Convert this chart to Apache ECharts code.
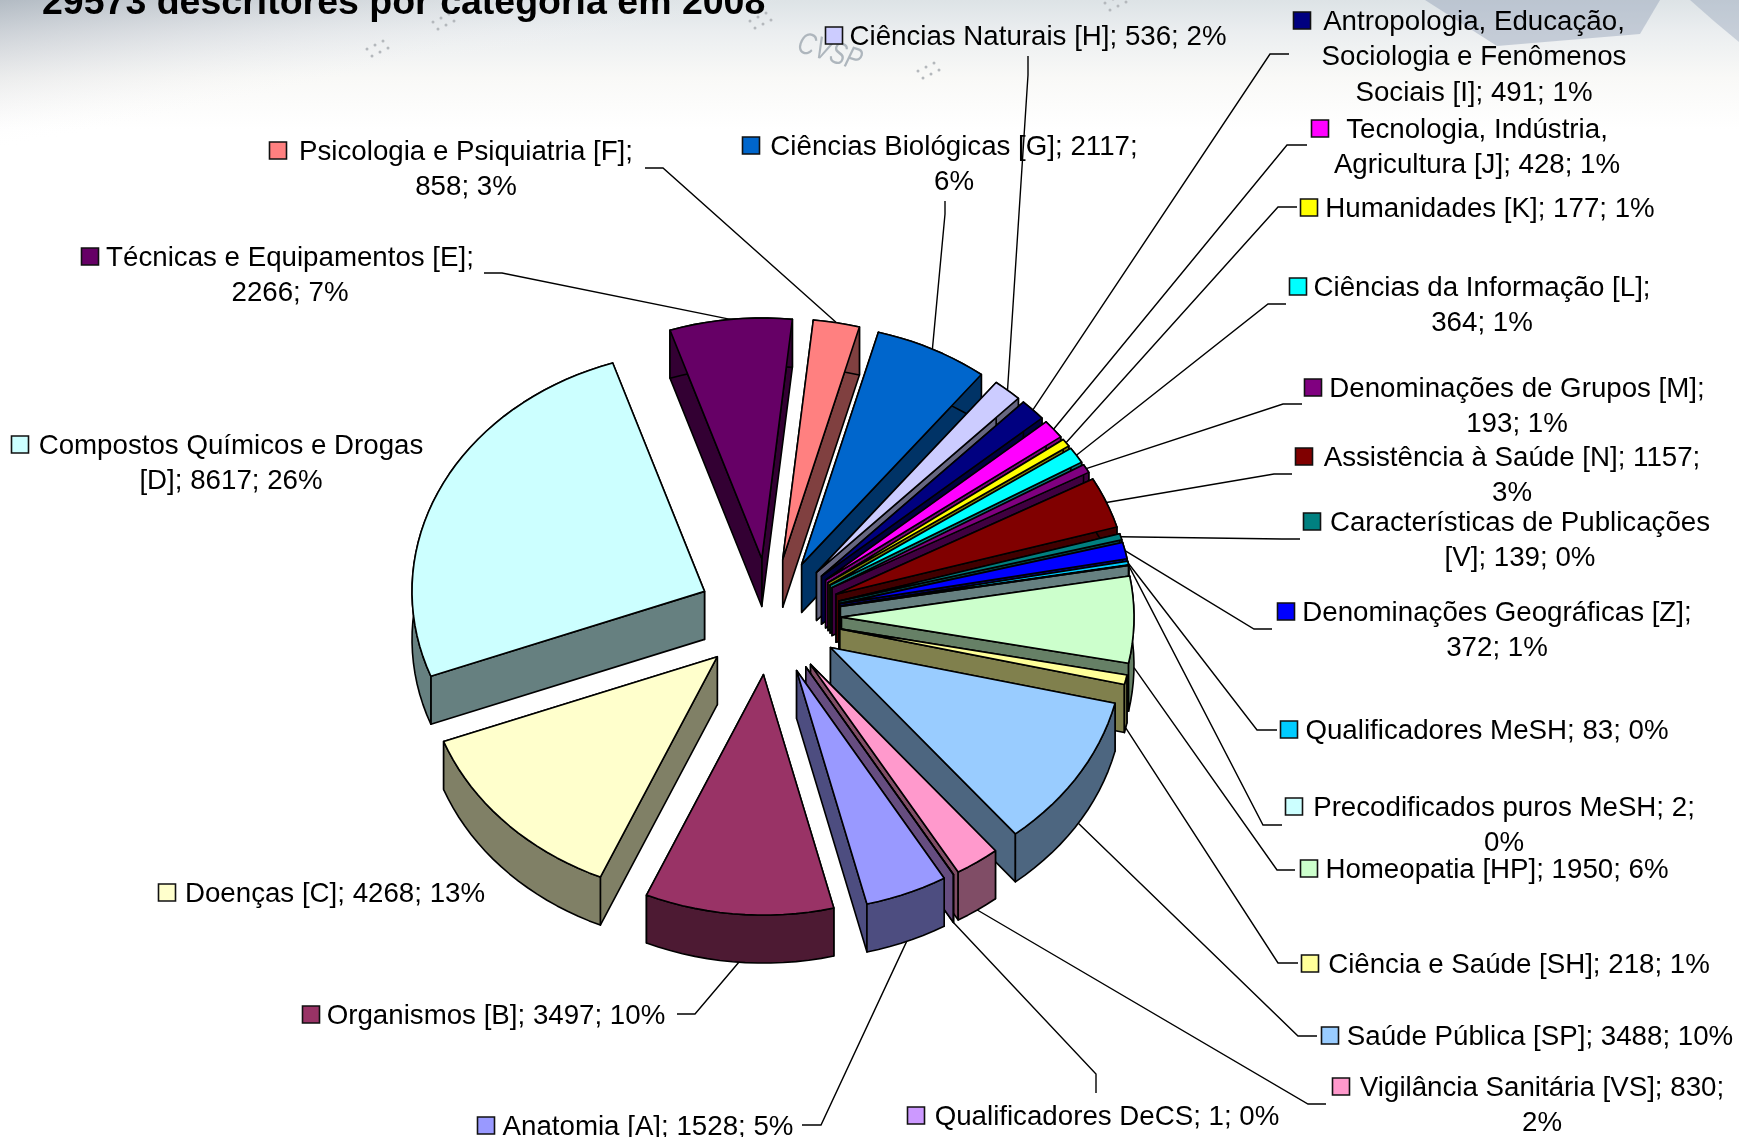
<!DOCTYPE html>
<html><head><meta charset="utf-8">
<style>html,body{margin:0;padding:0;background:#fff}#c{width:1739px;height:1137px}</style>
<script src="https://cdn.jsdelivr.net/npm/echarts@6/dist/echarts.min.js"></script>
</head><body><div id="c"></div>
<script>
const titleText = '29573 descritores por categoria em 2008';
const categories = ['Anatomia [A]','Organismos [B]','Doenças [C]','Compostos Químicos e Drogas [D]','Técnicas e Equipamentos [E]','Psicologia e Psiquiatria [F]','Ciências Biológicas [G]','Ciências Naturais [H]','Antropologia, Educação, Sociologia e Fenômenos Sociais [I]','Tecnologia, Indústria, Agricultura [J]','Humanidades [K]','Ciências da Informação [L]','Denominações de Grupos [M]','Assistência à Saúde [N]','Características de Publicações [V]','Denominações Geográficas [Z]','Qualificadores MeSH','Precodificados puros MeSH','Homeopatia [HP]','Ciência e Saúde [SH]','Saúde Pública [SP]','Vigilância Sanitária [VS]','Qualificadores DeCS'];
const values = [1528,3497,4268,8617,2266,858,2117,536,491,428,177,364,193,1157,139,372,83,2,1950,218,3488,830,1];
const percents = [5,10,13,26,7,3,6,2,1,1,1,1,1,3,0,1,0,0,6,1,10,2,0];
const colors = ['#9999FF','#993366','#FFFFCC','#CCFFFF','#660066','#FF8080','#0066CC','#CCCCFF','#000080','#FF00FF','#FFFF00','#00FFFF','#800080','#800000','#008080','#0000FF','#00CCFF','#CCFFFF','#CCFFCC','#FFFF99','#99CCFF','#FF99CC','#CC99FF'];

// Pie projection
const CX=769.5, CY=616.5, RX=292.5, RY=240.5, EXPLODE=72, DEPTH=48, START_DEG=30.3;
// Label placement: key x/y, text centre x, first-line y, break points, leader stub + elbow
const labelLayout = [
 {kx:486,y:1125,tx:648,br:[],stub:[802,1125],elbow:[821,1125]},
 {kx:311,y:1014,tx:496,br:[],stub:[677,1014],elbow:[695,1014]},
 {kx:167,y:892,tx:335,br:[]},
 {kx:20,y:444,tx:231,br:['Drogas']},
 {kx:90,y:256,tx:290,br:['[E];'],stub:[484,273],elbow:[502,273]},
 {kx:278,y:150,tx:466,br:['[F];'],stub:[645,168],elbow:[663,168]},
 {kx:751,y:145,tx:954,br:['2117;'],stub:[945,201],elbow:[945,214]},
 {kx:834,y:35,tx:1038,br:[],stub:[1028,56],elbow:[1028,75]},
 {kx:1302,y:20,tx:1474,br:['Educação,','Fenômenos'],stub:[1289,54],elbow:[1270,54]},
 {kx:1320,y:128,tx:1477,br:['Indústria,'],stub:[1307,145],elbow:[1287,145]},
 {kx:1309,y:207,tx:1490,br:[],stub:[1297,207],elbow:[1278,207]},
 {kx:1298,y:286,tx:1482,br:['[L];'],stub:[1286,304],elbow:[1268,304]},
 {kx:1313,y:387,tx:1517,br:['[M];'],stub:[1302,404],elbow:[1283,404]},
 {kx:1304,y:456,tx:1512,br:['1157;'],stub:[1292,474],elbow:[1274,474]},
 {kx:1312,y:521,tx:1520,br:['Publicações'],stub:[1300,539],elbow:[1282,539]},
 {kx:1286,y:611,tx:1497,br:['[Z];'],stub:[1272,629],elbow:[1254,629]},
 {kx:1289,y:729,tx:1487,br:[],stub:[1277,730],elbow:[1257,730]},
 {kx:1294,y:806,tx:1504,br:['2;'],stub:[1282,825],elbow:[1263,825]},
 {kx:1309,y:868,tx:1497,br:[],stub:[1295,870],elbow:[1277,870]},
 {kx:1310,y:963,tx:1519,br:[],stub:[1298,963],elbow:[1278,963]},
 {kx:1330,y:1035,tx:1540,br:[],stub:[1317,1036],elbow:[1298,1036]},
 {kx:1341,y:1086,tx:1542,br:['830;'],stub:[1326,1104],elbow:[1308,1104]},
 {kx:916,y:1115,tx:1107,br:[],stub:[1096,1093],elbow:[1096,1074]}
];
const dotClusters = [[377,50],[443,23],[760,22],[928,72],[1115,4]];

const total = values.reduce((a,b)=>a+b,0);
const angles=[]; { let acc=0; values.forEach(v=>{ const a0=acc/total*360-START_DEG; acc+=v; angles.push([a0,acc/total*360-START_DEG]); }); }
const rad=d=>d*Math.PI/180;
const dirOf=d=>[-Math.sin(rad(d)),Math.cos(rad(d))];
function apexOf(i){ const m=(angles[i][0]+angles[i][1])/2, d=dirOf(m); return [CX+EXPLODE*d[0],CY+EXPLODE*d[1]*0.81]; }
function rimPoint(i,deg){ const a=apexOf(i), d=dirOf(deg); return [a[0]+RX*d[0],a[1]+RY*d[1]]; }
function anchor(i){ const m=(angles[i][0]+angles[i][1])/2, p=rimPoint(i,m); return [p[0],p[1]+(Math.cos(rad(m))>0?DEPTH:0)]; }
const drawOrder=values.map((_,i)=>i).sort((a,b)=>Math.cos(rad((angles[a][0]+angles[a][1])/2))-Math.cos(rad((angles[b][0]+angles[b][1])/2)));
const rank=[]; drawOrder.forEach((i,r)=>rank[i]=r);
function dark(hex){ const n=parseInt(hex.slice(1),16); const f=v=>Math.round(v*0.5); return `rgb(${f(n>>16&255)},${f(n>>8&255)},${f(n&255)})`; }
const edge={stroke:'#000',lineWidth:1.6,lineJoin:'round'};

function renderSlice(params){
  const i=params.dataIndex, [a0,a1]=angles[i], apex=apexOf(i);
  const steps=Math.max(2,Math.ceil((a1-a0)/2.5)), arc=[];
  for(let s=0;s<=steps;s++) arc.push(rimPoint(i,a0+(a1-a0)*s/steps));
  const dn=p=>[p[0],p[1]+DEPTH];
  const wall=dark(colors[i]), z=rank[i]*5;
  const poly=(pts,fill,k)=>({type:'polygon',z2:z+k,shape:{points:pts},style:Object.assign({fill},edge),silent:true});
  // the radial wall nearer the viewer is painted over the one behind it
  const startFront=arc[0][1]>=arc[steps][1];
  return {type:'group',children:[
    poly([apex,arc[0],dn(arc[0]),dn(apex)],wall,startFront?1:0),
    poly([apex,arc[steps],dn(arc[steps]),dn(apex)],wall,startFront?0:1),
    poly(arc.concat(arc.slice().reverse().map(dn)),wall,2),
    poly([apex].concat(arc),colors[i],3)
  ]};
}

const FONT='"Liberation Sans", Arial, sans-serif', LH=35.2;
const graphics=[
 {type:'rect',z:-10,silent:true,shape:{x:0,y:0,width:1739,height:130},style:{fill:{type:'linear',x:0,y:0,x2:0,y2:1,colorStops:[{offset:0,color:'#dde3e6'},{offset:.25,color:'#ebeef0'},{offset:.6,color:'#f9f9f7'},{offset:1,color:'#ffffff'}]}}},
 {type:'rect',z:-9,silent:true,shape:{x:0,y:0,width:900,height:170},style:{fill:{type:'linear',global:true,x:0,y:0,x2:27,y2:145,colorStops:[{offset:0,color:'rgba(150,160,172,0.6)'},{offset:.4,color:'rgba(188,192,200,0.35)'},{offset:.75,color:'rgba(225,226,230,0.15)'},{offset:1,color:'rgba(255,255,255,0)'}]}}},
 {type:'polygon',z:-7,silent:true,shape:{points:[[1425,0],[1497,46],[1640,34],[1660,0]]},style:{fill:'rgba(140,155,178,0.42)'}},
 {type:'polygon',z:-7,silent:true,shape:{points:[[1690,0],[1739,0],[1739,42],[1715,22]]},style:{fill:'rgba(140,155,178,0.38)'}},
 {type:'text',z:-5,silent:true,x:803,y:28,rotation:-0.3,scaleY:1.3,style:{text:'CVSP',font:'italic 24px "Liberation Sans"',fill:'#aeb6bd'}},
 {type:'text',z:5,silent:true,x:42,y:4,style:{text:titleText,font:'bold 37.5px '+FONT,fill:'#000',align:'left',verticalAlign:'middle'}}
];
dotClusters.forEach(c=>{ for(let a=0;a<3;a++) for(let b=0;b<2;b++)
  graphics.push({type:'circle',z:-5,silent:true,shape:{cx:c[0]-10+a*8+b*5,cy:c[1]-1-a*4+b*7,r:1.5},style:{fill:'#b4b8bc'}});
});
categories.forEach((c,i)=>{
  const L=labelLayout[i];
  let t=`${c}; ${values[i]}; ${percents[i]}%`;
  L.br.forEach(b=>{t=t.replace(b+' ',b+'\n');});
  t.split('\n').forEach((line,n)=>{
    graphics.push({type:'text',z:6,silent:true,x:L.tx,y:L.y+2.5+n*LH,style:{text:line,font:'27.7px '+FONT,fill:'#000',align:'center',verticalAlign:'middle'}});
  });
  graphics.push({type:'rect',z:6,silent:true,shape:{x:L.kx-8.5,y:L.y-8,width:17,height:17},style:{fill:colors[i],stroke:'#111',lineWidth:1.6}});
  if(L.stub){
    graphics.push({type:'polyline',z:1,silent:true,shape:{points:[L.stub,L.elbow,anchor(i)]},style:{stroke:'#000',lineWidth:1.4,fill:null}});
  }
});

const chart=echarts.init(document.getElementById('c'),null,{renderer:'canvas'});
chart.setOption({
  animation:false,
  backgroundColor:'#ffffff',
  graphic:{elements:graphics},
  series:[{type:'custom',coordinateSystem:'none',renderItem:renderSlice,silent:true,data:values,z:3}]
});
</script></body></html>
